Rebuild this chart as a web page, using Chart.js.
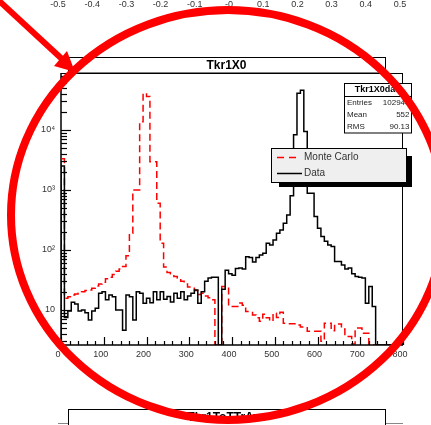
<!DOCTYPE html>
<html><head><meta charset="utf-8">
<script src="https://cdn.jsdelivr.net/npm/chart.js@4/dist/chart.umd.min.js"></script>
<style>html,body{margin:0;padding:0;background:#fff;overflow:hidden}canvas{display:block}</style>
</head><body>
<canvas id="c" width="431" height="425" style="width:431px;height:425px"></canvas>
<script>
// ---- data ----
const binEdges = [0,8,16,24,32,40,48,56,64,72,80,88,96,104,112,120,128,136,144,152,160,168,176,184,192,200,208,216,224,232,240,248,256,264,272,280,288,296,304,312,320,328,336,344,352,360,368,376,384,392,400,408,416,424,432,440,448,456,464,472,480,488,496,504,512,520,528,536,544,552,560,568,576,584,592,600,608,616,624,632,640,648,656,664,672,680,688,696,704,712,720,728,736,744,752,760,768,776,784,792,800];
const dataCounts = [
 2500, 7.5, 9.6, 13.4, 12.5, 9.6, 10, 9, 6.8, 9.6,
 10.7, 19, 20, 14.7, 17.8, 16.6, 10, 10, 4.6, 17.8,
 16.6, 6.8, 20, 19, 12.9, 15.6, 13.2, 20, 14.7, 20,
 15, 16.7, 13.5, 19, 15.6, 20, 14.7, 17, 19, 21.5,
 12.9, 20, 30, 34, 35, 35, 0, 22, 46, 40,
 38, 49, 50, 48, 77, 75, 63, 75, 82, 88,
 129, 121, 147, 190, 215, 278, 383, 800, 8300, 41000,
 46000, 9400, 880, 880, 359, 230, 167, 140, 121, 114,
 64, 64, 56, 48, 50, 40, 36, 35, 34, 12.9,
 24.5, 11.4, 0, 0, 0, 0, 0, 0, 0, 0];
const mcCounts = [
 3300, 15.7, 16.5, 17.8, 18.5, 19, 20, 21, 21.5, 23,
 25, 27, 29, 33, 35, 39, 44, 48, 53, 80,
 190, 1000, 1000, 13700, 41000, 36000, 2950, 2950, 600, 129,
 52, 42, 40, 36, 34, 30, 27, 24, 23, 21,
 18, 19, 17, 16, 14.7, 0, 0, 24.5, 24.5, 11.4,
 11.4, 11.4, 13, 12, 9.4, 9.4, 8.2, 7.4, 6.5, 8.5,
 7.4, 6.5, 8.8, 7.5, 9.1, 6, 5.9, 5.9, 5.9, 5.6,
 5.2, 5.2, 4.4, 4.4, 4.4, 4.4, 3, 6, 6, 4.5,
 5.8, 5.8, 4.8, 3.6, 3.6, 2.7, 5, 5, 4.1, 4.1,
 0, 0, 0, 0, 0, 0, 0, 0, 0, 0];
const xMajorTicks = [0,100,200,300,400,500,600,700,800];
const xTickLabels = ['0','100','200','300','400','500','600','700','800'];
const yMajorTicks = [10,100,1000,10000];
const yTickLabels = ['10','10\u00B2','10\u00B3','10\u2074'];
const topAxisValues = [-0.5,-0.4,-0.3,-0.2,-0.1,0,0.1,0.2,0.3,0.4,0.5];
const topAxisLabels = ['-0.5','-0.4','-0.3','-0.2','-0.1','-0','0.1','0.2','0.3','0.4','0.5'];
const statsTitle = 'Tkr1X0data';
const statsNames = ['Entries','Mean','RMS'];
const statsValues = ['102940','552','90.13'];
const legendLabels = ['Monte Carlo','Data'];
const histTitle = 'Tkr1X0';
const nextHistTitle = 'Tkr1ToTTrAve';

const Y_MIN = 2.6, Y_MAX = 89000;
const FONT = '"Liberation Sans", Arial, Helvetica, sans-serif';

function histogramPoints(counts){
  const pts = [{x: binEdges[0], y: Y_MIN}];
  counts.forEach((c, i) => pts.push({x: binEdges[i], y: c > 0 ? c : Y_MIN}));
  pts.push({x: binEdges[counts.length], y: Y_MIN});
  return pts;
}

function line(ctx, x1, y1, x2, y2){ ctx.beginPath(); ctx.moveTo(x1, y1); ctx.lineTo(x2, y2); ctx.stroke(); }

const rootDecor = {
  id: 'rootDecor',
  afterDatasetsDraw(chart){
    const {ctx, chartArea: a, scales: {x, y}} = chart;
    ctx.save();
    ctx.strokeStyle = '#000';
    ctx.lineWidth = 1;
    line(ctx, a.left, a.top + 0.5, a.right, a.top + 0.5);
    line(ctx, a.right - 0.5, a.top, a.right - 0.5, a.bottom);
    ctx.lineWidth = 1.5;
    line(ctx, a.left, a.top, a.left, a.bottom);
    line(ctx, a.left, a.bottom, a.right, a.bottom);
    ctx.lineWidth = 1.2;
    for (let v = x.min; v <= x.max; v += 20) {
      const px = Math.round(x.getPixelForValue(v)) + 0.5;
      const len = xMajorTicks.includes(v) ? 8 : 4;
      line(ctx, px, a.bottom, px, a.bottom - len);
    }
    for (let e = 0; e <= 4; e++) {
      for (let m = 1; m <= 9; m++) {
        const v = m * Math.pow(10, e);
        if (v < y.min || v > y.max) continue;
        const py = Math.round(y.getPixelForValue(v)) + 0.5;
        line(ctx, a.left, py, a.left + (m === 1 ? 10 : 6), py);
      }
    }
    ctx.restore();
  },
  afterDraw(chart){
    const {ctx, chartArea: a, scales: {x}} = chart;
    ctx.save();
    // title box
    ctx.fillStyle = '#fff';
    ctx.fillRect(68, 57, 317, 16);
    ctx.strokeStyle = '#000'; ctx.lineWidth = 1;
    ctx.strokeRect(68.5, 57.5, 317, 15.5);
    ctx.fillStyle = '#000';
    ctx.font = 'bold 12px ' + FONT;
    ctx.textAlign = 'center'; ctx.textBaseline = 'middle';
    ctx.fillText(histTitle, 226.5, 65.5);

    // top labels of the chart above
    ctx.font = '9px ' + FONT; ctx.fillStyle = '#333'; ctx.textBaseline = 'alphabetic';
    topAxisValues.forEach((v, i) => {
      ctx.fillText(topAxisLabels[i], x.getPixelForValue((v + 0.5) * (x.max - x.min)) - 3, 6.5);
    });

    // stats box
    ctx.fillStyle = '#fff'; ctx.fillRect(344, 83, 68, 50);
    ctx.strokeStyle = '#000'; ctx.strokeRect(344.5, 83.5, 67, 49.5);
    line(ctx, 344, 96.5, 412, 96.5);
    ctx.fillStyle = '#000'; ctx.font = 'bold 9px ' + FONT; ctx.textAlign = 'center'; ctx.textBaseline = 'middle';
    ctx.fillText(statsTitle, 379, 90);
    ctx.font = '8px ' + FONT; ctx.fillStyle = '#222';
    statsNames.forEach((n, i) => {
      const yy = 103 + i * 11.8;
      ctx.textAlign = 'left'; ctx.fillText(n, 347, yy);
      ctx.textAlign = 'right'; ctx.fillText(statsValues[i], 409.5, yy);
    });

    // legend with shadow
    ctx.fillStyle = '#000'; ctx.fillRect(279, 156, 133, 31);
    ctx.fillStyle = '#efefef'; ctx.fillRect(271, 148, 136, 35);
    ctx.strokeStyle = '#000'; ctx.lineWidth = 1; ctx.strokeRect(271.5, 148.5, 135, 34);
    ctx.strokeStyle = '#ff0000'; ctx.lineWidth = 1.5; ctx.setLineDash([7, 5]);
    line(ctx, 277, 157.5, 300, 157.5);
    ctx.setLineDash([]); ctx.strokeStyle = '#000';
    line(ctx, 277, 173.5, 302, 173.5);
    ctx.fillStyle = '#333'; ctx.font = '10px ' + FONT; ctx.textAlign = 'left'; ctx.textBaseline = 'middle';
    ctx.fillText(legendLabels[0], 304, 157.5);
    ctx.fillText(legendLabels[1], 304, 173.5);

    // next histogram title & frame top
    ctx.strokeStyle = '#888'; ctx.lineWidth = 1;
    line(ctx, 58, 423.5, 403, 423.5);
    ctx.fillStyle = '#fff'; ctx.fillRect(68, 409, 318, 20);
    ctx.strokeStyle = '#000'; ctx.strokeRect(68.5, 409.5, 317, 20);
    ctx.fillStyle = '#000'; ctx.font = 'bold 12px ' + FONT; ctx.textAlign = 'center'; ctx.textBaseline = 'middle';
    ctx.fillText(nextHistTitle, 227, 418);

    // red annotation: ellipse and arrow
    ctx.strokeStyle = '#ff0000'; ctx.fillStyle = '#ff0000';
    ctx.lineWidth = 8;
    ctx.beginPath(); ctx.ellipse(228, 215, 217, 205, 0, 0, Math.PI * 2); ctx.stroke();
    ctx.lineWidth = 6; ctx.lineCap = 'butt';
    line(ctx, -4, -2, 62, 59);
    ctx.beginPath(); ctx.moveTo(75, 72); ctx.lineTo(54, 66); ctx.lineTo(67, 51); ctx.closePath(); ctx.fill();
    ctx.restore();
  }
};

new Chart(document.getElementById('c'), {
  type: 'line',
  data: {
    datasets: [
      {label: legendLabels[1], data: histogramPoints(dataCounts), stepped: true, borderColor: '#000', borderWidth: 1.5, pointRadius: 0, fill: false},
      {label: legendLabels[0], data: histogramPoints(mcCounts), stepped: true, borderColor: '#ff0000', borderWidth: 1.5, borderDash: [7, 4], pointRadius: 0, fill: false}
    ]
  },
  options: {
    responsive: false, animation: false, devicePixelRatio: 1,
    layout: {padding: {left: 0, right: 28, top: 73, bottom: 0}},
    plugins: {legend: {display: false}, tooltip: {enabled: false}, title: {display: false}},
    scales: {
      x: {
        type: 'linear', min: 0, max: 800,
        grid: {display: false, drawTicks: false}, border: {display: false},
        ticks: {stepSize: 100, autoSkip: false, maxRotation: 0, padding: 4, labelOffset: -3,
          color: '#333', font: {family: FONT, size: 9},
          callback: v => { const i = xMajorTicks.indexOf(v); return i >= 0 ? xTickLabels[i] : ''; }},
        afterFit: s => { s.height = 80; }
      },
      y: {
        type: 'logarithmic', min: Y_MIN, max: Y_MAX,
        grid: {display: false, drawTicks: false}, border: {display: false},
        ticks: {autoSkip: false, padding: 6, color: '#333', font: {family: FONT, size: 9},
          callback: v => { const i = yMajorTicks.indexOf(v); return i >= 0 ? yTickLabels[i] : ''; }},
        afterFit: s => { s.width = 61; }
      }
    }
  },
  plugins: [rootDecor]
});
</script>
</body></html>
